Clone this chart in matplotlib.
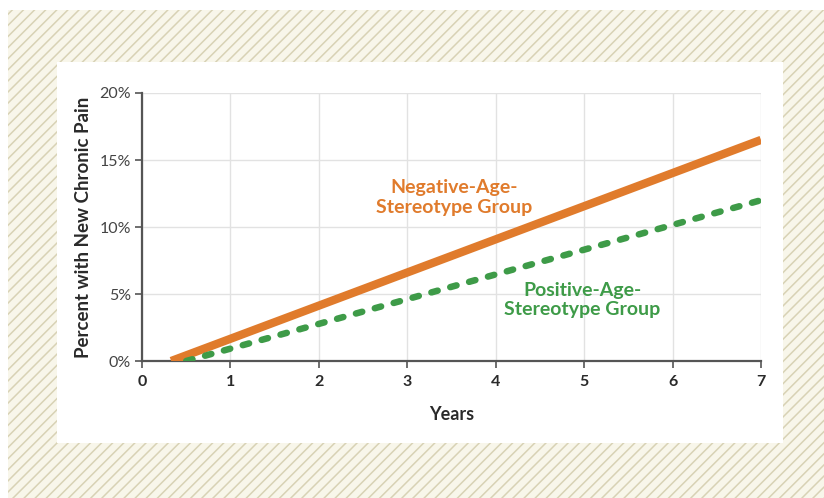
import matplotlib
matplotlib.use("Agg")
import matplotlib.pyplot as plt
from matplotlib.patches import Rectangle
from matplotlib.ticker import FuncFormatter

plt.rcParams['font.family'] = ['Lato', 'DejaVu Sans']
plt.rcParams['hatch.linewidth'] = 1.1

# Data
neg_years = [0.33, 7.0]
neg_pct = [0.0, 16.5]
pos_years = [0.5, 7.0]
pos_pct = [0.0, 12.0]
x_ticks = [0, 1, 2, 3, 4, 5, 6, 7]
y_ticks = [0, 5, 10, 15, 20]

W, H = 824, 498
fig = plt.figure(figsize=(W / 100, H / 100), dpi=100)
fig.patch.set_facecolor('white')

# Hatched background frame
bg = Rectangle((8 / W, 0), 1 - 8 / W, 1 - 10 / H, transform=fig.transFigure,
               facecolor='#F8F6EA', edgecolor='#D8D2B5', hatch='///', linewidth=0,
               zorder=0)
fig.patches.append(bg)
# White inner panel
panel = Rectangle((57 / W, 1 - 443 / H), (783 - 57) / W, (443 - 62) / H,
                  transform=fig.transFigure, facecolor='white', edgecolor='none',
                  zorder=1)
fig.patches.append(panel)

ax = fig.add_axes([142 / W, 1 - 361 / H, (761 - 142) / W, (361 - 93) / H])
ax.set_facecolor('none')
ax.set_zorder(2)

orange = '#E07B2C'
green = '#3E9B48'

ax.plot(neg_years, neg_pct, color=orange, lw=6.0, solid_capstyle='butt', zorder=3,
        clip_on=True)
ax.plot(pos_years, pos_pct, color=green, lw=4.7, linestyle=(0, (1.0, 2.0)),
        dash_capstyle='round', zorder=4, clip_on=True)

ax.set_xlim(0, 7)
ax.set_ylim(0, 20)
ax.set_xticks(x_ticks)
ax.set_yticks(y_ticks)
ax.yaxis.set_major_formatter(FuncFormatter(lambda v, p: f"{int(v)}%"))

ax.grid(True, color='#E2E2E2', lw=1.0, zorder=0)
ax.set_axisbelow(True)
for s in ['top', 'right']:
    ax.spines[s].set_visible(False)
for s in ['left', 'bottom']:
    ax.spines[s].set_color('#555555')
    ax.spines[s].set_linewidth(1.6)

ax.tick_params(axis='y', length=5, width=1.2, color='#555555', labelsize=11.5,
               labelcolor='#444444', pad=3)
ax.tick_params(axis='x', length=5, width=1.2, color='#555555', labelsize=11.5,
               labelcolor='#2A2A2A', pad=5)
for lbl in ax.get_xticklabels():
    lbl.set_fontweight('bold')

ax.set_xlabel('Years', fontsize=13, fontweight='bold', color='#2A2A2A', labelpad=12)
ax.set_ylabel('Percent with New Chronic Pain', fontsize=13.5, fontweight='bold',
              color='#2A2A2A', labelpad=5)

ax.text(3.53, 12.2, 'Negative-Age-\nStereotype Group', color=orange, fontsize=14,
        fontweight='bold', ha='center', va='center', linespacing=1.2)
ax.text(4.98, 4.55, 'Positive-Age-\nStereotype Group', color=green, fontsize=14,
        fontweight='bold', ha='center', va='center', linespacing=1.2)

fig.savefig('out.png', dpi=100)
